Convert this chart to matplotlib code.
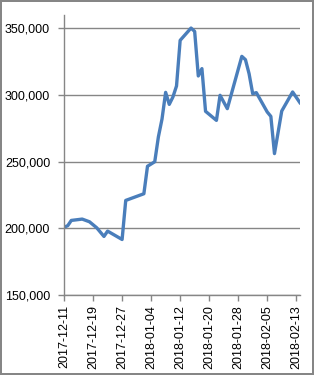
import matplotlib
matplotlib.use('Agg')

import matplotlib.pyplot as plt
import matplotlib.dates as mdates
import matplotlib.ticker as mticker
import pandas as pd

# === Data ===
dates = [
    "2017-12-11", "2017-12-12", "2017-12-13", "2017-12-16", "2017-12-18",
    "2017-12-20", "2017-12-22", "2017-12-23", "2017-12-27", "2017-12-28",
    "2018-01-02", "2018-01-03", "2018-01-05", "2018-01-06", "2018-01-07",
    "2018-01-08", "2018-01-09", "2018-01-10", "2018-01-11", "2018-01-12",
    "2018-01-15", "2018-01-16", "2018-01-17", "2018-01-18", "2018-01-19",
    "2018-01-22", "2018-01-23", "2018-01-25", "2018-01-29", "2018-01-30",
    "2018-01-31", "2018-02-01", "2018-02-02", "2018-02-05", "2018-02-06",
    "2018-02-07", "2018-02-09", "2018-02-12", "2018-02-14",
]
values = [
    201000, 202000, 206000, 207000, 205000,
    200500, 194000, 198000, 191700, 221000,
    226000, 246600, 250000, 268600, 282000,
    302000, 293000, 298500, 306800, 341000,
    350200, 347700, 314300, 319800, 287800,
    281000, 299800, 289800, 329000, 326500,
    316000, 301000, 301800, 287300, 284000,
    256100, 288000, 302300, 294300,
]
y_ticks = [150000, 200000, 250000, 300000, 350000]

x = pd.to_datetime(dates)

grid_color = "#868686"
line_color = "#4A7EBB"

fig = plt.figure(figsize=(3.14, 3.75), dpi=100, edgecolor=grid_color, linewidth=1.5)
ax = fig.add_axes([0.204, 0.213, 0.751, 0.747])

ax.plot(x, values, color=line_color, linewidth=2.4, solid_joinstyle='round')

ax.set_xlim(pd.Timestamp("2017-12-11"), pd.Timestamp("2018-02-14"))
ax.set_ylim(150000, 360000)

ax.xaxis.set_major_locator(mdates.DayLocator(bymonthday=None, interval=8))
ax.set_xticks(pd.date_range("2017-12-11", "2018-02-13", freq="8D"))
ax.xaxis.set_major_formatter(mdates.DateFormatter("%Y-%m-%d"))
ax.set_yticks(y_ticks)
ax.yaxis.set_major_formatter(mticker.FuncFormatter(lambda v, p: f"{int(v):,}"))

ax.grid(axis='y', color=grid_color, linewidth=1)
ax.set_axisbelow(True)
for s in ['top', 'right']:
    ax.spines[s].set_visible(False)
for s in ['left', 'bottom']:
    ax.spines[s].set_color(grid_color)
    ax.spines[s].set_linewidth(1)

ax.tick_params(axis='both', colors=grid_color, length=4, width=1, labelcolor='black',
               labelsize=9)
ax.tick_params(axis='y', pad=6)
ax.tick_params(axis='x', pad=3)
for lbl in ax.get_xticklabels() + ax.get_yticklabels():
    lbl.set_fontfamily('Liberation Sans')
for lbl in ax.get_xticklabels():
    lbl.set_rotation(90)

fig.savefig("out.png", dpi=100)
